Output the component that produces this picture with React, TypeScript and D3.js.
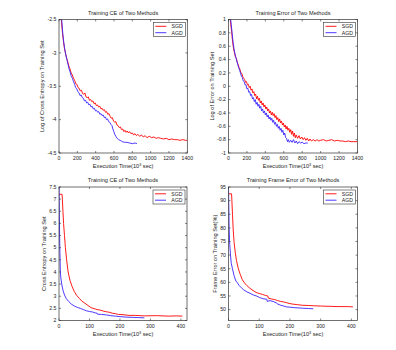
import React from 'react';
import * as d3 from 'd3';

type Pt = [number, number];

// top-left: log cross entropy
const logCeSgd: Pt[] = [
  [18, -2.35], [28, -2.55], [38, -2.7], [48, -2.82], [58, -2.92], [70, -3.0], [82, -3.07], [95, -3.13],
  [108, -3.2], [120, -3.24], [132, -3.3], [145, -3.33], [158, -3.38], [170, -3.41], [182, -3.46], [195, -3.47],
  [208, -3.52], [220, -3.53], [232, -3.57], [245, -3.56], [258, -3.61], [270, -3.62], [282, -3.6], [295, -3.66],
  [308, -3.67], [320, -3.66], [332, -3.71], [345, -3.7], [358, -3.73], [370, -3.72], [382, -3.76], [395, -3.75],
  [408, -3.79], [420, -3.78], [432, -3.81], [445, -3.8], [458, -3.84], [470, -3.83], [482, -3.86], [495, -3.85],
  [508, -3.89], [520, -3.88], [532, -3.92], [545, -3.91], [558, -3.95], [570, -3.98], [582, -3.97], [595, -4.02],
  [608, -4.04], [620, -4.03], [632, -4.08], [645, -4.09], [658, -4.12], [670, -4.11], [682, -4.15], [695, -4.14],
  [708, -4.18], [720, -4.16], [732, -4.19], [745, -4.17], [758, -4.2], [770, -4.18], [785, -4.21], [800, -4.2],
  [815, -4.23], [830, -4.21], [845, -4.24], [860, -4.22], [880, -4.25], [900, -4.23], [920, -4.26], [940, -4.24],
  [960, -4.27], [985, -4.25], [1010, -4.27], [1035, -4.26], [1060, -4.28], [1085, -4.27], [1110, -4.28], [1140, -4.29],
  [1170, -4.28], [1200, -4.3], [1230, -4.29], [1260, -4.3], [1290, -4.3], [1320, -4.31], [1350, -4.3], [1380, -4.31],
  [1400, -4.31],
];
const logCeAgd: Pt[] = [
  [22, -2.35], [32, -2.55], [42, -2.72], [52, -2.84], [62, -2.94], [74, -3.03], [86, -3.1], [98, -3.17],
  [110, -3.24], [122, -3.29], [134, -3.35], [146, -3.38], [158, -3.43], [170, -3.47], [182, -3.52], [194, -3.54],
  [206, -3.58], [218, -3.6], [230, -3.64], [242, -3.63], [254, -3.67], [266, -3.68], [278, -3.72], [290, -3.71],
  [302, -3.75], [314, -3.74], [326, -3.78], [338, -3.77], [350, -3.81], [362, -3.8], [374, -3.84], [386, -3.83],
  [398, -3.87], [410, -3.86], [422, -3.89], [434, -3.88], [446, -3.92], [458, -3.91], [470, -3.94], [482, -3.93],
  [494, -3.97], [506, -3.96], [518, -4.0], [530, -3.99], [542, -4.03], [554, -4.04], [566, -4.07], [578, -4.09],
  [588, -4.14], [598, -4.18], [608, -4.22], [620, -4.25], [634, -4.28], [650, -4.3], [668, -4.31], [690, -4.33],
  [715, -4.34], [740, -4.34], [770, -4.35], [800, -4.36], [830, -4.35], [850, -4.36],
];

// top-right: log error
const logErrSgd: Pt[] = [
  [15, 1.05], [25, 0.92], [35, 0.8], [45, 0.66], [55, 0.56], [65, 0.5], [75, 0.44], [85, 0.42], [95, 0.36],
  [105, 0.32], [115, 0.28], [125, 0.25], [135, 0.2], [145, 0.19], [155, 0.14], [165, 0.12], [175, 0.1], [185, 0.06],
  [195, 0.07], [205, 0.02], [215, 0.03], [225, -0.02], [235, 0.0], [245, -0.06], [255, -0.04], [265, -0.1],
  [275, -0.08], [285, -0.14], [295, -0.12], [305, -0.19], [315, -0.15], [325, -0.21], [335, -0.18], [345, -0.25],
  [355, -0.22], [365, -0.28], [375, -0.25], [385, -0.31], [395, -0.28], [405, -0.34], [415, -0.31], [425, -0.37],
  [435, -0.34], [445, -0.4], [455, -0.37], [465, -0.43], [475, -0.39], [485, -0.44], [495, -0.41], [505, -0.47],
  [515, -0.44], [525, -0.5], [535, -0.47], [545, -0.53], [555, -0.49], [565, -0.55], [575, -0.52], [585, -0.58],
  [595, -0.55], [605, -0.61], [615, -0.58], [625, -0.64], [635, -0.6], [645, -0.66], [655, -0.63], [665, -0.69],
  [675, -0.65], [685, -0.72], [695, -0.67], [705, -0.75], [715, -0.7], [725, -0.77], [735, -0.73], [750, -0.78],
  [765, -0.74], [780, -0.79], [795, -0.76], [810, -0.8], [825, -0.77], [840, -0.81], [855, -0.78], [870, -0.82],
  [885, -0.79], [900, -0.82], [920, -0.8], [940, -0.82], [960, -0.8], [980, -0.82], [1000, -0.81], [1030, -0.8],
  [1060, -0.82], [1090, -0.81], [1120, -0.8], [1150, -0.82], [1180, -0.81], [1210, -0.82], [1240, -0.82],
  [1270, -0.83], [1300, -0.82], [1330, -0.83], [1360, -0.83], [1400, -0.83],
];
const logErrAgd: Pt[] = [
  [20, 1.05], [30, 0.92], [40, 0.79], [50, 0.66], [60, 0.56], [70, 0.49], [80, 0.43], [90, 0.38], [100, 0.33],
  [110, 0.28], [120, 0.24], [130, 0.2], [140, 0.15], [150, 0.13], [160, 0.08], [170, 0.07], [180, 0.02], [190, 0.02],
  [200, -0.04], [210, -0.03], [220, -0.09], [230, -0.08], [240, -0.14], [250, -0.12], [260, -0.19], [270, -0.17],
  [280, -0.23], [290, -0.2], [300, -0.27], [310, -0.24], [320, -0.3], [330, -0.27], [340, -0.33], [350, -0.3],
  [360, -0.37], [370, -0.34], [380, -0.4], [390, -0.37], [400, -0.43], [410, -0.4], [420, -0.46], [430, -0.43],
  [440, -0.49], [450, -0.46], [460, -0.51], [470, -0.48], [480, -0.54], [490, -0.51], [500, -0.57], [510, -0.54],
  [520, -0.6], [530, -0.57], [540, -0.63], [550, -0.6], [560, -0.66], [570, -0.63], [580, -0.69], [590, -0.66],
  [600, -0.73], [610, -0.7], [620, -0.77], [630, -0.78], [640, -0.83], [650, -0.8], [660, -0.84], [675, -0.81],
  [690, -0.84], [705, -0.8], [720, -0.85], [735, -0.82], [750, -0.86], [765, -0.83], [780, -0.85], [800, -0.84],
  [820, -0.86], [840, -0.85], [860, -0.85],
];

// bottom-left: cross entropy
const ceSgd: Pt[] = [
  [0, 7.2], [10, 7.2], [11, 7.0], [13, 6.5], [15, 6.0], [18, 5.5], [21, 5.0], [25, 4.5], [30, 4.0], [36, 3.65],
  [43, 3.4], [50, 3.2], [58, 3.03], [66, 2.92], [75, 2.8], [85, 2.71], [95, 2.62], [105, 2.53], [115, 2.49],
  [125, 2.45], [135, 2.43], [145, 2.39], [155, 2.36], [165, 2.34], [175, 2.3], [185, 2.28], [195, 2.25], [210, 2.24],
  [230, 2.21], [250, 2.21], [280, 2.19], [320, 2.2], [360, 2.18], [385, 2.19], [405, 2.18],
];
const ceAgd: Pt[] = [
  [0, 7.5], [1, 6.5], [2, 5.5], [3, 4.8], [4.5, 4.0], [6, 3.75], [9, 3.5], [13, 3.25], [18, 3.05], [24, 2.9],
  [32, 2.78], [40, 2.68], [50, 2.6], [60, 2.54], [70, 2.5], [80, 2.45], [90, 2.4], [100, 2.37], [110, 2.35],
  [120, 2.31], [125, 2.3], [126, 2.26], [140, 2.25], [155, 2.23], [170, 2.2], [185, 2.18], [200, 2.16], [220, 2.14],
  [240, 2.13], [260, 2.12], [280, 2.11],
];

// bottom-right: frame error (%)
const feSgd: Pt[] = [
  [0, 92.5], [10, 92.5], [11, 90], [13, 85], [15, 80], [18, 75], [22, 71], [26, 68], [32, 65], [38, 63], [45, 61],
  [52, 59.8], [60, 58.8], [70, 57.8], [80, 57], [90, 56.3], [100, 55.9], [110, 55.6], [120, 55.2], [128, 55],
  [130, 54.2], [140, 53.9], [150, 53.7], [160, 53.3], [170, 53], [180, 52.8], [190, 52.5], [200, 52.2], [210, 52],
  [225, 51.8], [240, 51.6], [260, 51.5], [280, 51.4], [300, 51.3], [330, 51.2], [360, 51.1], [390, 51.1], [405, 51],
];
const feAgd: Pt[] = [
  [0, 95], [1, 88], [2, 80], [4, 74], [6.5, 70], [9, 67], [13, 65], [18, 62.5], [24, 60.5], [28, 60], [35, 58.8],
  [42, 58], [50, 57.2], [60, 56.5], [70, 56], [80, 55.4], [91, 55], [100, 54.5], [112, 54], [125, 53.8], [126, 53],
  [135, 53.3], [145, 53], [155, 52.5], [161, 52], [170, 51.6], [180, 51.3], [188, 51], [200, 50.9], [215, 50.7],
  [230, 50.6], [242, 50.5], [260, 50.4], [276, 50.3],
];

const xTicksLong = [0, 200, 400, 600, 800, 1000, 1200, 1400];
const xTicksShort = [0, 100, 200, 300, 400];
const yTicksLogCe = [-4.5, -4, -3.5, -3, -2.5];
const yTicksLogErr = [-1, -0.8, -0.6, -0.4, -0.2, 0, 0.2, 0.4, 0.6, 0.8, 1];
const yTicksCe = [2, 2.5, 3, 3.5, 4, 4.5, 5, 5.5, 6, 6.5, 7, 7.5];
const yTicksFe = [50, 55, 60, 65, 70, 75, 80, 85, 90, 95];

const FONT = 'Liberation Sans, Arial, sans-serif';
const RED = '#ff0000';
const BLUE = '#3a22ff';

type PanelProps = {
  id: string;
  left: number; top: number; right: number; bottom: number;
  xDomain: [number, number]; yDomain: [number, number];
  xTicks: number[]; yTicks: number[];
  title: string; yLabel: string; yLabelX: number;
  sgd: Pt[]; agd: Pt[];
};

const Panel = (p: PanelProps) => {
  const x = d3.scaleLinear().domain(p.xDomain).range([p.left, p.right]);
  const y = d3.scaleLinear().domain(p.yDomain).range([p.bottom, p.top]);
  const line = d3.line<Pt>().x(d => x(d[0])).y(d => y(d[1]));
  const cx = (p.left + p.right) / 2;
  const cy = (p.top + p.bottom) / 2;
  const tl = 2;
  const lgX = p.right - 34, lgY = p.top + 3;
  return (
    <g>
      <clipPath id={p.id}>
        <rect x={p.left} y={p.top} width={p.right - p.left} height={p.bottom - p.top} />
      </clipPath>
      <text x={cx} y={p.top - 5} fontSize={5.6} textAnchor="middle" fill="#222">{p.title}</text>
      <g clipPath={`url(#${p.id})`} fill="none" strokeWidth={0.9}>
        <path d={line(p.sgd) ?? ''} stroke={RED} />
        <path d={line(p.agd) ?? ''} stroke={BLUE} />
      </g>
      <rect x={p.left} y={p.top} width={p.right - p.left} height={p.bottom - p.top} fill="none" stroke="#333" strokeWidth={0.7} />
      {p.xTicks.map(t => (
        <g key={'x' + t}>
          <line x1={x(t)} x2={x(t)} y1={p.bottom} y2={p.bottom - tl} stroke="#333" strokeWidth={0.6} />
          <line x1={x(t)} x2={x(t)} y1={p.top} y2={p.top + tl} stroke="#333" strokeWidth={0.6} />
          <text x={x(t)} y={p.bottom + 7} fontSize={5.2} textAnchor="middle" fill="#222">{t}</text>
        </g>
      ))}
      {p.yTicks.map(t => (
        <g key={'y' + t}>
          <line x1={p.left} x2={p.left + tl} y1={y(t)} y2={y(t)} stroke="#333" strokeWidth={0.6} />
          <line x1={p.right} x2={p.right - tl} y1={y(t)} y2={y(t)} stroke="#333" strokeWidth={0.6} />
          <text x={p.left - 2.5} y={y(t) + 1.8} fontSize={5.2} textAnchor="end" fill="#222">{t}</text>
        </g>
      ))}
      <text x={cx} y={p.bottom + 15} fontSize={5.6} textAnchor="middle" fill="#222">
        Execution Time(10<tspan dy={-2} fontSize={3.8}>3</tspan><tspan dy={2}> sec)</tspan>
      </text>
      <text transform={`translate(${p.yLabelX},${cy}) rotate(-90)`} fontSize={5.6} textAnchor="middle" fill="#222">{p.yLabel}</text>
      <rect x={lgX} y={lgY} width={32} height={14} fill="#fff" stroke="#333" strokeWidth={0.6} />
      <line x1={lgX + 2} x2={lgX + 13} y1={lgY + 3.8} y2={lgY + 3.8} stroke={RED} strokeWidth={0.9} />
      <line x1={lgX + 2} x2={lgX + 13} y1={lgY + 10.2} y2={lgY + 10.2} stroke={BLUE} strokeWidth={0.9} />
      <text x={lgX + 29.5} y={lgY + 5.8} fontSize={5.2} textAnchor="end" fill="#222">SGD</text>
      <text x={lgX + 29.5} y={lgY + 12.2} fontSize={5.2} textAnchor="end" fill="#222">AGD</text>
    </g>
  );
};

const App = () => (
  <svg width={396} height={350} viewBox="0 0 396 350" style={{ position: 'absolute', left: 0, top: 0, background: '#fff' }} fontFamily={FONT}>
    <rect width={396} height={350} fill="#fff" />
    <Panel id="c1" left={59} top={19.5} right={187.3} bottom={153} xDomain={[0, 1400]} yDomain={[-4.5, -2.5]}
      xTicks={xTicksLong} yTicks={yTicksLogCe} title="Training CE of Two Methods"
      yLabel="Log of Cross Entropy on Training Set" yLabelX={44} sgd={logCeSgd} agd={logCeAgd} />
    <Panel id="c2" left={228.5} top={19.5} right={357.5} bottom={153} xDomain={[0, 1400]} yDomain={[-1, 1]}
      xTicks={xTicksLong} yTicks={yTicksLogErr} title="Training Error of Two Methods"
      yLabel="Log of Error on Training Set" yLabelX={214} sgd={logErrSgd} agd={logErrAgd} />
    <Panel id="c3" left={59} top={187} right={187} bottom={320.5} xDomain={[0, 420]} yDomain={[2, 7.5]}
      xTicks={xTicksShort} yTicks={yTicksCe} title="Training CE of Two Methods"
      yLabel="Cross Entropy on Training Set" yLabelX={46} sgd={ceSgd} agd={ceAgd} />
    <Panel id="c4" left={228.5} top={187} right={357.5} bottom={320.5} xDomain={[0, 420]} yDomain={[46, 95]}
      xTicks={xTicksShort} yTicks={yTicksFe} title="Training Frame Error of Two Methods"
      yLabel="Frame Error on Training Set(%)" yLabelX={217} sgd={feSgd} agd={feAgd} />
  </svg>
);

export default App;
